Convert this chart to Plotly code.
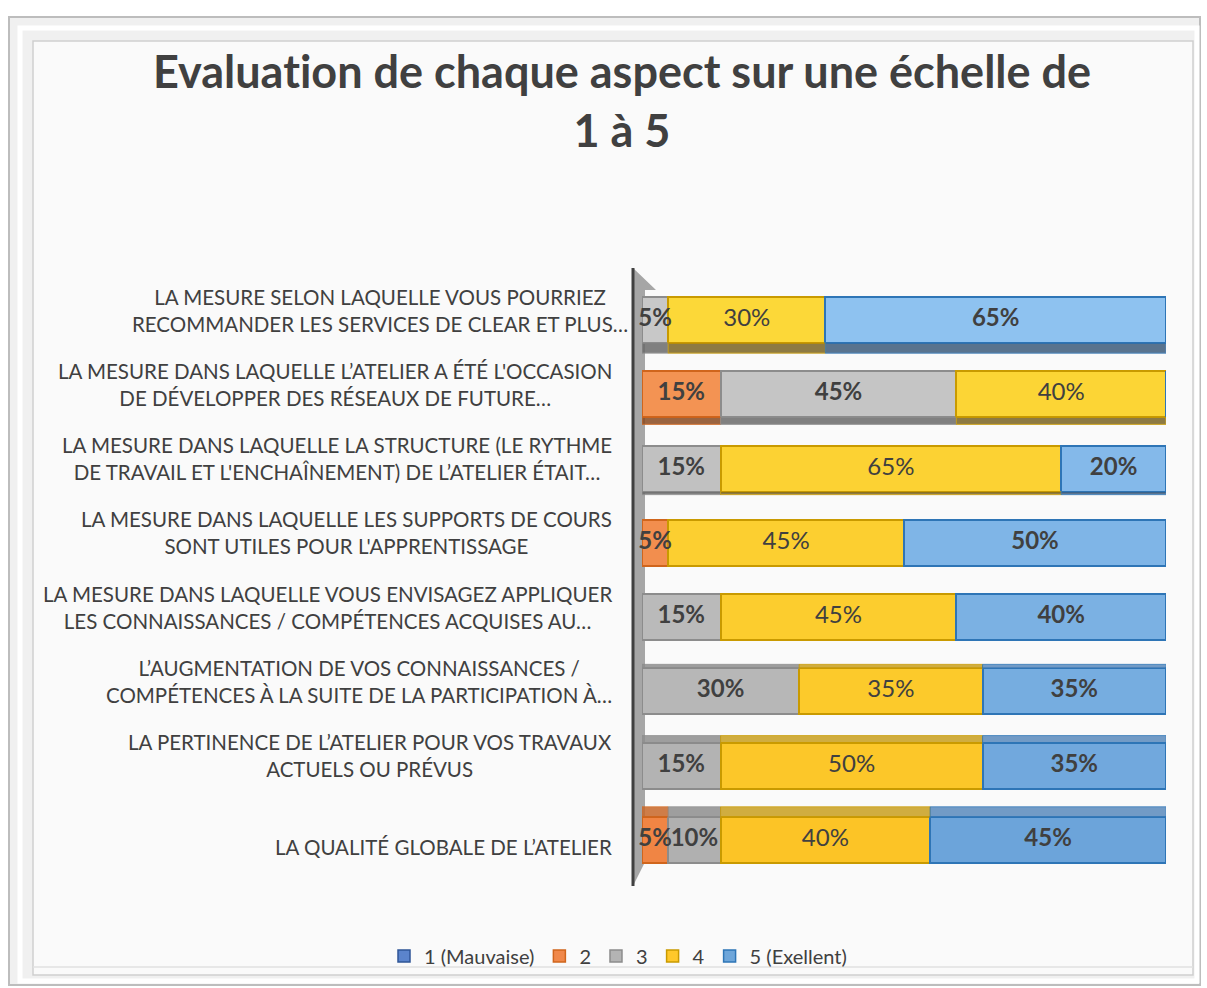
import plotly.graph_objects as go

categories = [
    "LA MESURE SELON LAQUELLE VOUS POURRIEZ<br>RECOMMANDER LES SERVICES DE CLEAR ET PLUS…",
    "LA MESURE DANS LAQUELLE L’ATELIER A ÉTÉ L'OCCASION<br>DE DÉVELOPPER DES RÉSEAUX DE FUTURE…",
    "LA MESURE DANS LAQUELLE LA STRUCTURE (LE RYTHME<br>DE TRAVAIL ET L'ENCHAÎNEMENT) DE L’ATELIER ÉTAIT…",
    "LA MESURE DANS LAQUELLE LES SUPPORTS DE COURS<br>SONT UTILES POUR L'APPRENTISSAGE",
    "LA MESURE DANS LAQUELLE VOUS ENVISAGEZ APPLIQUER<br>LES CONNAISSANCES / COMPÉTENCES ACQUISES AU…",
    "L’AUGMENTATION DE VOS CONNAISSANCES /<br>COMPÉTENCES À LA SUITE DE LA PARTICIPATION À…",
    "LA PERTINENCE DE L’ATELIER POUR VOS TRAVAUX<br>ACTUELS OU PRÉVUS",
    "LA QUALITÉ GLOBALE DE L’ATELIER",
]
series_names = ["1 (Mauvaise)", "2", "3", "4", "5 (Exellent)"]
s1 = [0, 0, 0, 0, 0, 0, 0, 0]
s2 = [0, 15, 0, 5, 0, 0, 0, 5]
s3 = [5, 45, 15, 0, 15, 30, 15, 10]
s4 = [30, 40, 65, 45, 45, 35, 50, 40]
s5 = [65, 0, 20, 50, 40, 35, 35, 45]
title_text = "Evaluat\u200cion de chaque aspect sur une échelle de<br>1 à 5"

W, H = 1207, 988
L, R = 642, 1166
T, B = 283, 877
FONT = "Lato"
BARGAP = 0.38

legend_colors = ["#5B84CC", "#F0884A", "#B4B4B4", "#FFC82A", "#6EA6DA"]
top_fill = ["#5A88D8", "#F39556", "#C8C8C8", "#FCD838", "#8EC2F0"]
bot_fill = ["#4A78C8", "#F08544", "#B0B0B0", "#FCC426", "#6CA4DA"]
edges = ["#2F5597", "#D0651C", "#8C8C8C", "#C99A00", "#2E75B6"]
bottom_face = ["#2F4A7A", "#8A4A20", "#6B6B6B", "#7A6424", "#3E5C7C"]
top_face = ["#3F68B0", "#C8682A", "#8E8E8E", "#C9A020", "#5B8BBE"]
bolds = [True, True, True, False, True]
face_px = [10, 7, 3, 0, 0, -4, -7, -10]

def px(x):
    return (x - L) / (R - L)

def py(y):
    return (B - y) / (B - T)

def hx(c):
    return [int(c[i:i + 2], 16) for i in (1, 3, 5)]

def mix(a, b, t):
    ca, cb = hx(a), hx(b)
    return "#" + "".join(f"{round(ca[k] + (cb[k] - ca[k]) * t):02x}" for k in range(3))

n = len(categories)
all_series = [s1, s2, s3, s4, s5]
fig = go.Figure()
for k, (name, vals) in enumerate(zip(series_names, all_series)):
    cols = [mix(top_fill[k], bot_fill[k], i / (n - 1)) for i in range(n)]
    fig.add_trace(go.Bar(
        y=categories, x=vals, name=name, orientation="h", legendgroup=name, showlegend=False,
        marker=dict(color=cols, line=dict(color=edges[k], width=2)),
        hoverinfo="x+name",
    ))
# legend entries with flat series colours
for k, name in enumerate(series_names):
    fig.add_trace(go.Bar(
        y=[categories[0]], x=[None], name=name, orientation="h", legendgroup=name,
        marker=dict(color=legend_colors[k], line=dict(color=edges[k], width=1.5)),
        hoverinfo="skip",
    ))

# 3D faces (top/bottom) of each segment
unit_px = (B - T) / n
half = (1 - BARGAP) / 2
face_shapes = []
cum = [0] * n
for k, vals in enumerate(all_series):
    for i, v in enumerate(vals):
        if v > 0 and face_px[i] != 0:
            t = abs(face_px[i]) / unit_px
            if face_px[i] > 0:
                y0, y1, col = i + half, i + half + t, bottom_face[k]
            else:
                y0, y1, col = i - half - t, i - half, top_face[k]
            face_shapes.append(dict(type="rect", xref="x", yref="y", x0=cum[i], x1=cum[i] + v,
                                    y0=y0, y1=y1, fillcolor=col, opacity=0.85,
                                    line=dict(color=edges[k], width=1), layer="above"))
        cum[i] += v

# data labels drawn on top of all bars
cum = [0] * n
for vals, bd in zip(all_series, bolds):
    xs, ys, ts = [], [], []
    for i, v in enumerate(vals):
        if v > 0:
            xs.append(cum[i] + v / 2)
            ys.append(categories[i])
            ts.append(f"<b>{v}%</b>" if bd else f"{v}%")
        cum[i] += v
    fig.add_trace(go.Scatter(
        x=xs, y=ys, text=ts, mode="text", showlegend=False, hoverinfo="skip",
        textfont=dict(family=FONT, size=24, color="#404040"), cliponaxis=False,
    ))

shapes = [
    # outer frame
    dict(type="rect", xref="paper", yref="paper", x0=px(9), x1=px(1200), y0=py(985), y1=py(17),
         line=dict(color="#BDBDBD", width=2), fillcolor="#F0F0F0", layer="below"),
    dict(type="rect", xref="paper", yref="paper", x0=px(20), x1=px(1197), y0=py(981), y1=py(28),
         line=dict(color="#FFFFFF", width=5), fillcolor="rgba(0,0,0,0)", layer="below"),
    dict(type="rect", xref="paper", yref="paper", x0=px(33), x1=px(1193), y0=py(975), y1=py(41),
         line=dict(color="#CFCFCF", width=1.5), fillcolor="#FAFAFA", layer="below"),
    dict(type="line", xref="paper", yref="paper", x0=px(33), x1=px(1193), y0=py(967), y1=py(967),
         line=dict(color="#E0E0E0", width=1.5), layer="below"),
    # 3D wall
    dict(type="path", xref="paper", yref="paper",
         path=f"M {px(633)},{py(268)} L {px(656)},{py(290)} L {px(645)},{py(290)} L {px(645)},{py(862)} L {px(633)},{py(886)} Z",
         fillcolor="#A6A6A6", line=dict(width=0), layer="below"),
    dict(type="line", xref="paper", yref="paper", x0=px(633), x1=px(633), y0=py(268), y1=py(886),
         line=dict(color="#404040", width=3)),
] + face_shapes

annotations = []
for i, c in enumerate(categories):
    two = "<br>" in c
    annotations.append(dict(
        x=px(614), xref="paper", y=c, yref="y", text=c, showarrow=False,
        xanchor="right", align="center", yshift=10 if two else -7,
        xshift=16 if i == 0 else 0,
        font=dict(family=FONT, size=20.5, color="#404040"),
    ))

fig.update_layout(
    width=W, height=H,
    margin=dict(l=L, r=W - R, t=T, b=H - B),
    paper_bgcolor="#FFFFFF", plot_bgcolor="rgba(0,0,0,0)",
    barmode="stack", bargap=BARGAP,
    title=dict(text=f"<b>{title_text}</b>", x=622 / W, xref="container", xanchor="center",
               y=1 - 88 / H, yref="container", yanchor="middle",
               font=dict(family=FONT, size=45, color="#404040")),
    xaxis=dict(range=[0, 100], visible=False, fixedrange=True),
    yaxis=dict(autorange="reversed", showticklabels=False, showgrid=False, zeroline=False,
               showline=False),
    legend=dict(orientation="h", x=px(618), xanchor="center", y=py(956), yanchor="middle",
                font=dict(family=FONT, size=20, color="#404040"), traceorder="normal",
                bgcolor="rgba(0,0,0,0)"),
    shapes=shapes, annotations=annotations, showlegend=True,
)
fig.write_html("out.html", config={"displayModeBar": False},
               post_script="document.body.style.margin='0';document.body.style.overflow='hidden';")
